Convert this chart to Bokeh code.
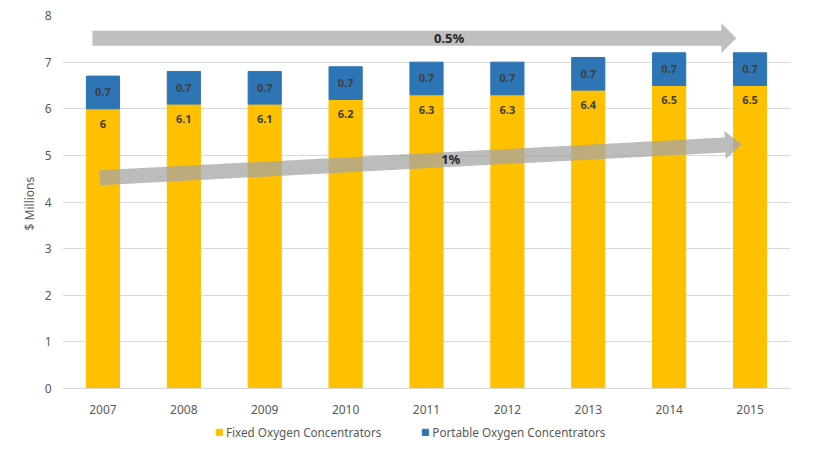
import numpy as np
from bokeh.plotting import figure
from bokeh.layouts import column
from bokeh.models import ColumnDataSource, FactorRange, Range1d, Legend, LegendItem, LabelSet, Label, SingleIntervalTicker
from bokeh.core.properties import value
from bokeh.embed import file_html
from bokeh.resources import INLINE

years = ["2007", "2008", "2009", "2010", "2011", "2012", "2013", "2014", "2015"]
fixed = [6.0, 6.1, 6.1, 6.2, 6.3, 6.3, 6.4, 6.5, 6.5]
portable = [0.7, 0.7, 0.7, 0.7, 0.7, 0.7, 0.7, 0.7, 0.7]
fixed_labels = ["6", "6.1", "6.1", "6.2", "6.3", "6.3", "6.4", "6.5", "6.5"]
portable_labels = ["0.7"] * 9
series_names = ["Fixed Oxygen Concentrators", "Portable Oxygen Concentrators"]
growth_labels = ["0.5%", "1%"]

YELLOW = "#FFC000"
BLUE = "#2E75B6"
FONT = "Noto Sans"
GRAY_TXT = "#595959"

p = figure(x_range=FactorRange(*years, range_padding=0), y_range=Range1d(0, 8),
           frame_width=728, frame_height=373, output_backend="svg", toolbar_location=None,
           min_border_left=62, min_border_right=16, min_border_top=15, min_border_bottom=0)

top = [f + q for f, q in zip(fixed, portable)]
src = ColumnDataSource(dict(x=years, fixed=fixed, top=top,
                            flab=fixed_labels, plab=portable_labels,
                            py=[f + q / 2 for f, q in zip(fixed, portable)]))

r1 = p.vbar(x="x", top="fixed", bottom=0, width=0.41, color=YELLOW, source=src)
r2 = p.vbar(x="x", top="top", bottom="fixed", width=0.41, color=BLUE, source=src)

p.add_layout(LabelSet(x="x", y="fixed", text="flab", source=src, text_align="center",
                      text_baseline="top", y_offset=-11, text_font=value(FONT), text_font_size="11px",
                      text_font_style="bold", text_color="#404040"))
p.add_layout(LabelSet(x="x", y="py", text="plab", source=src, text_align="center",
                      text_baseline="middle", text_font=value(FONT), text_font_size="11px",
                      text_font_style="bold", text_color="#404040"))

# arrows (annotation shapes)
SX = 728 / 9.0   # px per x unit
SY = 373 / 8.0   # px per y unit

def arrow_poly(x0, y0, x1, y1, half_shaft, half_head, head_len):
    px0, py0, px1, py1 = x0 * SX, y0 * SY, x1 * SX, y1 * SY
    d = np.array([px1 - px0, py1 - py0])
    L = np.hypot(*d)
    u = d / L
    n = np.array([-u[1], u[0]])
    a = np.array([px0, py0]); b = np.array([px1, py1])
    base = b - u * head_len
    pts = [a + n * half_shaft, base + n * half_shaft, base + n * half_head, b,
           base - n * half_head, base - n * half_shaft, a - n * half_shaft]
    xs = [pt[0] / SX for pt in pts]
    ys = [pt[1] / SY for pt in pts]
    return xs, ys

xs, ys = arrow_poly(0.37, 7.51, 8.33, 7.51, 7.5, 15, 15)
p.patch(xs, ys, color="#BFBFBF", line_color=None)
xs, ys = arrow_poly(0.46, 4.52, 8.4, 5.24, 7.5, 14, 17)
p.patch(xs, ys, color="#A6A6A6", alpha=0.75, line_color=None)

p.add_layout(Label(x=4.78, y=7.52, text=growth_labels[0], text_align="center", text_baseline="middle",
                   text_font=FONT, text_font_size="13px", text_font_style="bold", text_color="#262626"))
p.add_layout(Label(x=4.8, y=4.92, text=growth_labels[1], text_align="center", text_baseline="middle",
                   text_font=FONT, text_font_size="13px", text_font_style="bold", text_color="#262626"))

# axes styling
p.yaxis.ticker = SingleIntervalTicker(interval=1)
p.yaxis.axis_line_color = None
p.yaxis.major_tick_line_color = None
p.yaxis.minor_tick_line_color = None
p.yaxis.major_label_text_font = FONT
p.yaxis.major_label_text_font_size = "12px"
p.yaxis.major_label_text_color = GRAY_TXT
p.yaxis.axis_label = "$  Millions"
p.yaxis.axis_label_text_font = FONT
p.yaxis.axis_label_text_font_size = "12px"
p.yaxis.axis_label_text_font_style = "normal"
p.yaxis.axis_label_text_color = GRAY_TXT
p.yaxis.axis_label_standoff = 4

p.xaxis.axis_line_color = "#D9D9D9"
p.xaxis.major_tick_line_color = None
p.xaxis.minor_tick_line_color = None
p.xaxis.major_label_text_font = FONT
p.xaxis.major_label_text_font_size = "12px"
p.xaxis.major_label_text_color = GRAY_TXT
p.xaxis.major_label_standoff = 10

p.xgrid.grid_line_color = None
p.ygrid.grid_line_color = "#D9D9D9"
p.outline_line_color = None

# legend strip below the chart (proxy renderers lie outside the strip's visible range)
p2 = figure(width=806, height=32, x_range=Range1d(0, 1), y_range=Range1d(0, 1),
            output_backend="svg", toolbar_location=None,
            min_border_left=0, min_border_right=0, min_border_top=0, min_border_bottom=0)
p2.axis.visible = False
p2.grid.visible = False
p2.outline_line_color = None
lr1 = p2.quad(left=[-3], right=[-2], bottom=[-3], top=[-2], color=YELLOW)
lr2 = p2.quad(left=[-3], right=[-2], bottom=[-3], top=[-2], color=BLUE)
legend = Legend(items=[LegendItem(label=series_names[0], renderers=[lr1]),
                       LegendItem(label=series_names[1], renderers=[lr2])],
                orientation="horizontal", location=(153, 8),
                label_text_font=FONT, label_text_font_size="11.7px", label_text_color=GRAY_TXT,
                glyph_width=8, glyph_height=8, spacing=40, padding=2, margin=0,
                label_standoff=3, border_line_color=None, background_fill_alpha=0)
p2.add_layout(legend)

open("out.html", "w").write(file_html(column(p, p2, spacing=0), INLINE))
